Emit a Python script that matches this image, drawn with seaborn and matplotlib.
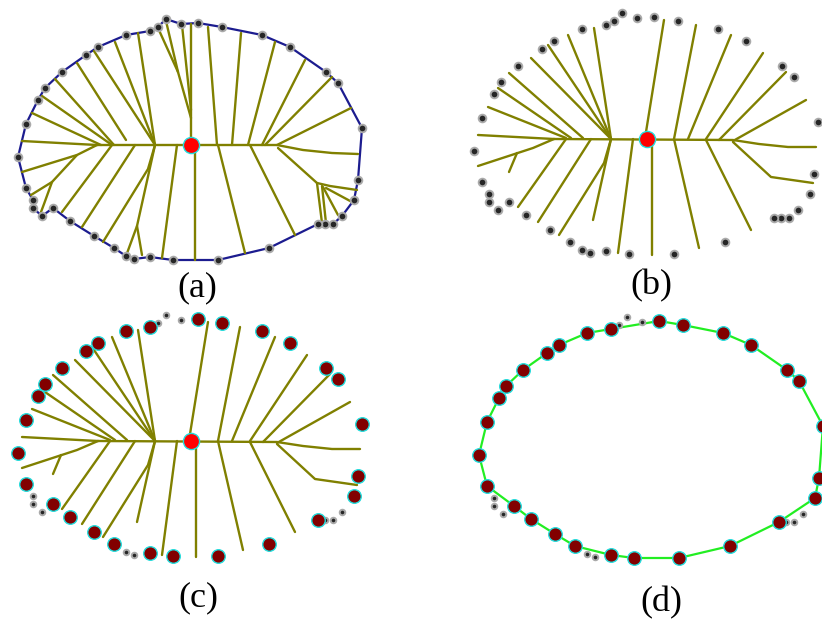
import numpy as np
import pandas as pd
import matplotlib
matplotlib.use('Agg')
import matplotlib.pyplot as plt
import seaborn as sns

sns.set_style('white')
plt.rcParams['font.family'] = ['Liberation Serif', 'DejaVu Serif']

# boundary sample points (panel a pixel coords, clockwise from top-left)
bound_x = [126, 150, 158, 166, 181, 198, 222, 262, 290, 326, 338, 362, 358, 354, 342, 333, 325, 318,
           269, 218, 173, 150, 134, 126, 114, 94, 70, 53, 42, 33, 33, 26, 18, 26, 38, 45, 62, 86, 98]
bound_y = [35, 31, 27, 19, 24, 23, 27, 35, 47, 72, 83, 128, 180, 200, 216, 224, 224, 224,
           248, 260, 260, 257, 259, 256, 248, 236, 221, 208, 216, 208, 200, 188, 157, 124, 100, 88, 72, 55, 47]
# 1 = kept as contour point (dark red), 0 = dropped
kept = [1, 1, 0, 0, 0, 1, 1, 1, 1, 1, 1, 1, 1, 1, 0, 0, 0, 1,
        1, 1, 1, 1, 0, 0, 1, 1, 1, 1, 0, 0, 0, 1, 1, 1, 1, 1, 1, 1, 1]

center = (191, 145)

# full skeleton (a)
branches = [
    [(97, 145), (277, 145), (303, 150), (332, 153), (358, 154)],
    [(191, 140), (191, 24)],
    [(191, 118), (178, 72), (166, 21)],
    [(178, 72), (158, 28)],
    [(191, 110), (182, 25)],
    [(155, 145), (138, 33)],
    [(155, 145), (115, 42)],
    [(155, 145), (94, 51)],
    [(126, 140), (77, 63)],
    [(114, 145), (55, 79)],
    [(112, 145), (42, 96)],
    [(101, 145), (32, 113)],
    [(97, 145), (22, 141)],
    [(97, 145), (77, 155), (22, 172)],
    [(77, 155), (52, 182), (31, 195)],
    [(52, 182), (44, 204), (41, 212)],
    [(112, 145), (62, 212)],
    [(135, 145), (82, 227)],
    [(155, 145), (148, 169), (103, 242)],
    [(155, 145), (137, 226), (126, 256)],
    [(137, 226), (142, 255)],
    [(177, 145), (162, 258)],
    [(195, 145), (195, 260)],
    [(217, 145), (208, 27)],
    [(232, 145), (241, 33)],
    [(248, 145), (275, 42)],
    [(262, 145), (305, 60)],
    [(265, 145), (332, 77)],
    [(277, 145), (351, 108)],
    [(218, 145), (245, 253)],
    [(250, 145), (295, 235)],
    [(278, 148), (317, 183), (330, 186), (357, 190)],
    [(317, 183), (322, 223)],
    [(322, 186), (326, 223)],
    [(323, 187), (338, 215)],
    [(326, 188), (352, 202)],
]

# pruned skeleton (b, c)
branches_pruned = [
    [(98, 145), (277, 146), (303, 150), (332, 153), (360, 153)],
    [(190, 138), (208, 26)],
    [(155, 145), (138, 34)],
    [(155, 145), (112, 41)],
    [(155, 145), (92, 51)],
    [(155, 145), (75, 64)],
    [(127, 144), (53, 79)],
    [(115, 144), (42, 94)],
    [(110, 144), (32, 113)],
    [(98, 145), (22, 141)],
    [(98, 145), (77, 154), (22, 172)],
    [(61, 159), (53, 178)],
    [(110, 145), (62, 213)],
    [(135, 145), (82, 228)],
    [(155, 145), (148, 169), (103, 241)],
    [(155, 145), (137, 226)],
    [(177, 145), (162, 259)],
    [(196, 149), (196, 261)],
    [(218, 145), (240, 31)],
    [(232, 145), (275, 41)],
    [(250, 145), (307, 59)],
    [(263, 146), (330, 78)],
    [(277, 147), (350, 106)],
    [(218, 145), (243, 254)],
    [(250, 146), (295, 236)],
    [(277, 148), (315, 183), (357, 189)],
]

labels = ['(a)', '(b)', '(c)', '(d)']
label_pos = [(197, 288), (651, 286), (198, 598), (661, 603)]

# panel offsets
off_a, off_b, off_c, off_d = (0, 0), (456, -6), (0, 296), (461, 298)

olive = '#808000'
fig = plt.figure(figsize=(8.22, 6.21), dpi=100)
ax = fig.add_axes([0, 0, 1, 1])

bx = np.array(bound_x, float)
by = np.array(bound_y, float)
keep = np.array(kept, bool)


def tree_frame(brs):
    rows = []
    for i, br in enumerate(brs):
        for px, py in br:
            rows.append({'seg': i, 'x': px, 'y': py})
    return pd.DataFrame(rows)


tree_full = tree_frame(branches)
tree_pruned = tree_frame(branches_pruned)


def draw_tree(tree, off):
    d = tree.copy()
    d['x'] += off[0]
    d['y'] += off[1]
    sns.lineplot(data=d, x='x', y='y', units='seg', estimator=None, sort=False,
                 color=olive, lw=1.7, ax=ax, legend=False)


def draw_contour(xs, ys, off, color):
    d = pd.DataFrame({'x': np.r_[xs, xs[:1]] + off[0], 'y': np.r_[ys, ys[:1]] + off[1]})
    sns.lineplot(data=d, x='x', y='y', sort=False, estimator=None, color=color, lw=1.6, ax=ax)


def draw_black(xs, ys, off, s=30):
    sns.scatterplot(x=xs + off[0], y=ys + off[1], s=s, color='#262626', edgecolor='#aaaaaa',
                    linewidth=1.4, ax=ax, zorder=5)


def draw_red(xs, ys, off):
    sns.scatterplot(x=xs + off[0], y=ys + off[1], s=95, color='#820000', edgecolor='#22dddd',
                    linewidth=1.0, ax=ax, zorder=6)


def draw_center(off):
    ax.scatter([center[0] + off[0]], [center[1] + off[1]], s=135, color='#ff0000',
               edgecolor='#22dddd', linewidth=1.0, zorder=7)


# (a)
draw_contour(bx, by, off_a, '#1c1c8f')
draw_tree(tree_full, off_a)
draw_black(bx, by, off_a)
draw_center(off_a)
# (b)
draw_tree(tree_pruned, off_b)
draw_black(bx, by, off_b)
draw_center(off_b)
# (c)
draw_tree(tree_pruned, off_c)
draw_black(bx[~keep], by[~keep], off_c, s=16)
draw_red(bx[keep], by[keep], off_c)
draw_center(off_c)
# (d)
draw_contour(bx[keep], by[keep], off_d, '#22ee22')
draw_black(bx[~keep], by[~keep], off_d, s=16)
draw_red(bx[keep], by[keep], off_d)

for lab, (lx, ly) in zip(labels, label_pos):
    ax.text(lx, ly, lab, ha='center', va='center', fontsize=26, color='black')

ax.set_xlim(0, 822)
ax.set_ylim(621, 0)
ax.set_axis_off()
fig.savefig('out.png', dpi=100, facecolor='white')
